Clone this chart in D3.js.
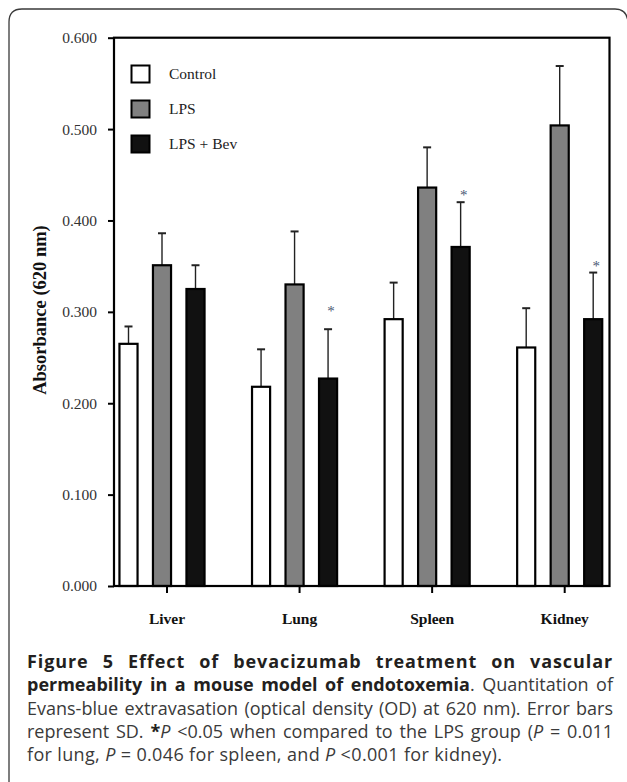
<html>
    <head>
        <style>
            body { margin: 0; background: #fff; }
            #wrap { position: relative; width: 627px; height: 782px; overflow: hidden; }
            .axis path { display: none; }
            .axis line { stroke: #000; stroke-width: 2px; }
            .caption {
                position: absolute; left: 27px; top: 650px; width: 586px;
                font-family: "Open Sans", sans-serif; font-size: 18px;
                line-height: 23.3px; color: #3a3a3a;
            }
            .caption div { white-space: nowrap; text-align: justify; text-align-last: justify; }
            .caption div.last { text-align: left; text-align-last: left; letter-spacing: 0.35px; }
            .caption b { color: #231f20; font-weight: 700; }
            .caption .l1 { letter-spacing: 0.9px; }
        </style>
    </head>
    <body>
        <div id="wrap">
            <div id="chart"></div>
            <div class="caption">
                <div class="l1"><b>Figure 5 Effect of bevacizumab treatment on vascular</b></div>
                <div><b>permeability in a mouse model of endotoxemia</b>. Quantitation of</div>
                <div>Evans-blue extravasation (optical density (OD) at 620 nm). Error bars</div>
                <div>represent SD. <b>*</b><i>P</i> &lt;0.05 when compared to the LPS group (<i>P</i> = 0.011</div>
                <div class="last">for lung, <i>P</i> = 0.046 for spleen, and <i>P</i> &lt;0.001 for kidney).</div>
            </div>
        </div>
        <script src="https://d3js.org/d3.v7.min.js"></script>
        <script>
            const categories = ['Liver', 'Lung', 'Spleen', 'Kidney'];
            const seriesNames = ['Control', 'LPS', 'LPS + Bev'];
            const control = [0.265, 0.218, 0.292, 0.261];
            const controlSD = [0.019, 0.041, 0.040, 0.043];
            const lps = [0.351, 0.330, 0.436, 0.504];
            const lpsSD = [0.035, 0.058, 0.044, 0.065];
            const lpsBev = [0.325, 0.227, 0.371, 0.292];
            const lpsBevSD = [0.026, 0.054, 0.049, 0.051];
            // level of the significance asterisk above the LPS + Bev bar
            const starLevel = [null, 0.304, 0.431, 0.354];
            const yTicks = [0, 0.1, 0.2, 0.3, 0.4, 0.5, 0.6];

            const colors = { 'Control': '#ffffff', 'LPS': '#808080', 'LPS + Bev': '#111111' };
            const values = { 'Control': control, 'LPS': lps, 'LPS + Bev': lpsBev };
            const sds = { 'Control': controlSD, 'LPS': lpsSD, 'LPS + Bev': lpsBevSD };

            const plot = { left: 114, right: 609.5, top: 37.7, bottom: 586 };
            const serif = '"Liberation Serif", "Times New Roman", serif';

            const svg = d3.select('#chart')
                .append('svg')
                .attr('width', 627)
                .attr('height', 782)
                .style('position', 'absolute')
                .style('left', 0)
                .style('top', 0);

            // outer figure frame
            svg.append('path')
                .attr('d', 'M9,790 V22 Q9,9 22,9 H615 Q627,9 628,22 V790')
                .attr('fill', 'none')
                .attr('stroke', '#3a3a3a')
                .attr('stroke-width', 1.3);

            const yScale = d3.scaleLinear()
                .domain([0, 0.6])
                .range([plot.bottom, plot.top]);

            const x0 = d3.scalePoint()
                .domain(categories)
                .range([162, 559.7]);

            const x1 = d3.scaleBand()
                .domain(seriesNames)
                .range([-50.25, 50.25])
                .paddingInner(0.46)
                .paddingOuter(0.23);

            const rows = [];
            categories.forEach((c, i) => {
                seriesNames.forEach(s => {
                    rows.push({ cat: c, series: s, value: values[s][i], sd: sds[s][i] });
                });
            });

            const bars = svg.append('g');

            // error bars (upper only)
            const err = bars.selectAll('.err')
                .data(rows)
                .enter()
                .append('g')
                .attr('class', 'err')
                .attr('stroke', '#222')
                .attr('stroke-width', 1.4);

            err.append('line')
                .attr('x1', d => x0(d.cat) + x1(d.series) + x1.bandwidth() / 2)
                .attr('x2', d => x0(d.cat) + x1(d.series) + x1.bandwidth() / 2)
                .attr('y1', d => yScale(d.value))
                .attr('y2', d => yScale(d.value + d.sd));

            err.append('line')
                .attr('x1', d => x0(d.cat) + x1(d.series) + x1.bandwidth() / 2 - 4)
                .attr('x2', d => x0(d.cat) + x1(d.series) + x1.bandwidth() / 2 + 4)
                .attr('y1', d => yScale(d.value + d.sd))
                .attr('y2', d => yScale(d.value + d.sd))
                .attr('stroke-width', 2);

            bars.selectAll('.bar')
                .data(rows)
                .enter()
                .append('rect')
                .attr('class', 'bar')
                .attr('x', d => x0(d.cat) + x1(d.series))
                .attr('y', d => yScale(d.value))
                .attr('width', x1.bandwidth())
                .attr('height', d => yScale(0) - yScale(d.value))
                .attr('fill', d => colors[d.series])
                .attr('stroke', '#000')
                .attr('stroke-width', 2.2);

            // significance asterisks
            svg.selectAll('.star')
                .data(categories.filter((c, i) => starLevel[i] !== null))
                .enter()
                .append('text')
                .attr('class', 'star')
                .attr('x', c => x0(c) + x1('LPS + Bev') + x1.bandwidth() / 2 + 3)
                .attr('y', c => yScale(starLevel[categories.indexOf(c)]) + 8)
                .attr('text-anchor', 'middle')
                .style('font-family', serif)
                .style('font-size', '15px')
                .style('fill', '#4a5873')
                .text('*');

            // plot frame
            svg.append('rect')
                .attr('x', plot.left)
                .attr('y', plot.top)
                .attr('width', plot.right - plot.left)
                .attr('height', plot.bottom - plot.top)
                .attr('fill', 'none')
                .attr('stroke', '#000')
                .attr('stroke-width', 2.2);

            // y axis
            const yAxis = svg.append('g')
                .attr('class', 'axis')
                .attr('transform', `translate(${plot.left},0)`)
                .call(d3.axisLeft(yScale)
                    .tickValues(yTicks)
                    .tickFormat(d3.format('.3f'))
                    .tickSize(6)
                    .tickPadding(11));
            yAxis.selectAll('text')
                .style('font-family', serif)
                .style('font-size', '15.5px')
                .style('fill', '#333');

            // x axis (ticks sit slightly right of the group centres)
            const xAxis = svg.append('g')
                .attr('class', 'axis')
                .attr('transform', `translate(4.5,${plot.bottom})`)
                .call(d3.axisBottom(x0)
                    .tickSize(7)
                    .tickPadding(20));
            xAxis.selectAll('text')
                .style('font-family', serif)
                .style('font-size', '15.5px')
                .style('font-weight', 'bold')
                .style('fill', '#111');

            // y axis title
            svg.append('text')
                .attr('transform', 'rotate(-90)')
                .attr('x', -310)
                .attr('y', 46)
                .attr('text-anchor', 'middle')
                .style('font-family', serif)
                .style('font-size', '18.5px')
                .style('font-weight', 'bold')
                .style('fill', '#111')
                .text('Absorbance (620 nm)');

            // legend
            const legend = svg.selectAll('.legend')
                .data(seriesNames)
                .enter()
                .append('g')
                .attr('class', 'legend')
                .attr('transform', (d, i) => `translate(131.5,${65.5 + i * 35})`);

            legend.append('rect')
                .attr('width', 18)
                .attr('height', 17)
                .attr('fill', d => colors[d])
                .attr('stroke', '#000')
                .attr('stroke-width', 2);

            legend.append('text')
                .attr('x', 37.5)
                .attr('y', 13.5)
                .style('font-family', serif)
                .style('font-size', '15.5px')
                .style('fill', '#222')
                .text(d => d);
        </script>
    </body>
</html>
